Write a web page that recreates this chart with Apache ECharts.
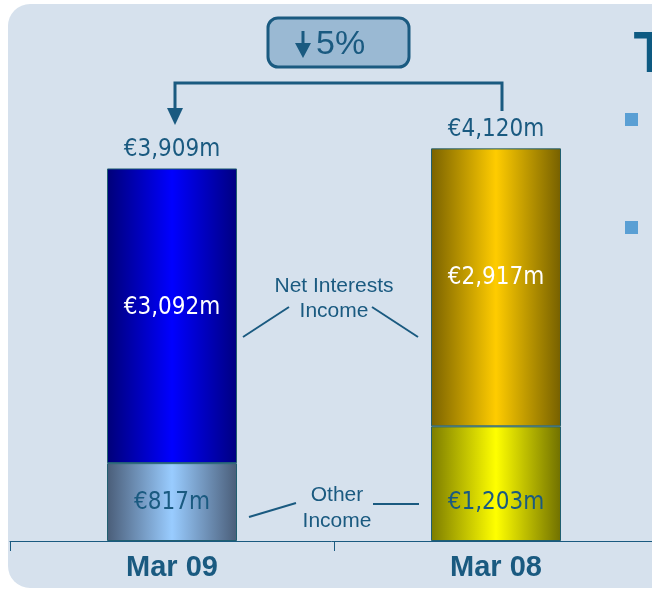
<!DOCTYPE html>
<html>
<head>
<meta charset="utf-8">
<script src="https://cdn.jsdelivr.net/npm/echarts@6/dist/echarts.min.js"></script>
<style>
  html, body { margin: 0; padding: 0; background: #ffffff; }
  #chart { width: 652px; height: 590px; }
</style>
</head>
<body>
<div id="chart"></div>
<script>
// data
const categories = ['Mar 09', 'Mar 08']
const otherIncome = [817, 1203]
const netInterest = [3092, 2917]
const totals = [3909, 4120]
const changeLabel = '5%'

const navy = '#1a5a80'
const narrow = '"Liberation Sans Narrow", "DejaVu Sans Condensed", sans-serif'
const arial = '"Liberation Sans", Arial, sans-serif'

function grad (edge, mid, edge2) {
  return new echarts.graphic.LinearGradient(0, 0, 1, 0, [
    { offset: 0, color: edge },
    { offset: 0.5, color: mid },
    { offset: 1, color: edge2 }
  ])
}

function euro (p) {
  return '€' + p.value.toLocaleString('en-US') + 'm'
}

// colours per bar
const niiColors = [grad('#000078', '#0000ff', '#000080'), grad('#7a6200', '#ffcc00', '#766000')]
const otherColors = [grad('#4a5d78', '#99ccff', '#4a5d78'), grad('#7c7c00', '#ffff00', '#707000')]
const niiOffsets = [-8, -10]
const otherOffsets = [1, 19]

const myChart = echarts.init(document.getElementById('chart'))

const option = {
  backgroundColor: '#ffffff',
  animation: false,
  grid: { left: 10, right: -6, top: 64.5, bottom: 49, outerBoundsMode: 'none', containLabel: false },
  xAxis: {
    type: 'category',
    data: categories,
    axisLine: { lineStyle: { color: navy, width: 1 } },
    axisTick: { show: true, length: 10, lineStyle: { color: navy } },
    axisLabel: {
      color: navy,
      fontFamily: arial,
      fontWeight: 'bold',
      fontSize: 29,
      margin: 12
    }
  },
  yAxis: { type: 'value', min: 0, max: 5000, show: false },
  series: [
    {
      name: 'Other Income',
      type: 'bar',
      stack: 'income',
      barWidth: 130,
      data: otherIncome.map((v, i) => ({
        value: v,
        itemStyle: { color: otherColors[i] },
        label: { offset: [0, otherOffsets[i]] }
      })),
      itemStyle: { borderColor: '#215f70', borderWidth: 1 },
      label: {
        show: true,
        position: 'inside',
        color: navy,
        fontFamily: narrow,
        fontSize: 24,
        formatter: euro
      }
    },
    {
      name: 'Net Interests Income',
      type: 'bar',
      stack: 'income',
      barWidth: 130,
      data: netInterest.map((v, i) => ({
        value: v,
        itemStyle: { color: niiColors[i] },
        label: { offset: [0, niiOffsets[i]] }
      })),
      itemStyle: { borderColor: '#215f70', borderWidth: 1 },
      label: {
        show: true,
        position: 'inside',
        color: '#ffffff',
        fontFamily: narrow,
        fontSize: 24,
        formatter: euro
      }
    },
    {
      name: 'Total',
      type: 'bar',
      barWidth: 130,
      barGap: '-100%',
      silent: true,
      data: totals,
      itemStyle: { color: 'rgba(0,0,0,0)' },
      label: {
        show: true,
        position: 'top',
        distance: 7,
        color: navy,
        fontFamily: narrow,
        fontSize: 24,
        formatter: euro
      }
    }
  ],
  graphic: [
    // panel
    {
      type: 'rect', z: -10, silent: true,
      shape: { x: 8, y: 4, width: 680, height: 584, r: 22 },
      style: { fill: '#d6e1ed' }
    },
    // change box
    {
      type: 'rect',
      shape: { x: 268, y: 18, width: 141, height: 49, r: 10 },
      style: { fill: '#9ab9d3', stroke: navy, lineWidth: 3 }
    },
    { type: 'rect', shape: { x: 301.5, y: 31, width: 3, height: 15 }, style: { fill: navy } },
    { type: 'polygon', shape: { points: [[295, 43], [311, 43], [303, 58]] }, style: { fill: navy } },
    {
      type: 'text',
      style: { x: 316, y: 45, text: changeLabel, fill: navy, font: '34px ' + arial, align: 'left', verticalAlign: 'middle' }
    },
    // bracket
    { type: 'polyline', shape: { points: [[175, 110], [175, 83], [502, 83], [502, 111]] }, style: { stroke: navy, lineWidth: 3, fill: null } },
    { type: 'polygon', shape: { points: [[167, 108], [183, 108], [175, 125]] }, style: { fill: navy } },
    // annotations
    {
      type: 'text',
      style: { x: 334, y: 299, text: 'Net Interests\nIncome', fill: navy, font: '21px ' + arial, align: 'center', verticalAlign: 'middle', lineHeight: 25 }
    },
    { type: 'line', shape: { x1: 243, y1: 337, x2: 289, y2: 307 }, style: { stroke: navy, lineWidth: 2 } },
    { type: 'line', shape: { x1: 372, y1: 307, x2: 418, y2: 337 }, style: { stroke: navy, lineWidth: 2 } },
    {
      type: 'text',
      style: { x: 337, y: 508, text: 'Other\nIncome', fill: navy, font: '21px ' + arial, align: 'center', verticalAlign: 'middle', lineHeight: 26 }
    },
    { type: 'line', shape: { x1: 249, y1: 517, x2: 296, y2: 503 }, style: { stroke: navy, lineWidth: 2 } },
    { type: 'line', shape: { x1: 373, y1: 504, x2: 419, y2: 504 }, style: { stroke: navy, lineWidth: 2 } },
    // clipped slide content on the right
    {
      type: 'text',
      style: { x: 651, y: 28, text: 'T', fill: '#0e5a82', font: 'bold 57px ' + arial, align: 'center', verticalAlign: 'top' }
    },
    { type: 'rect', shape: { x: 625, y: 113, width: 13, height: 13 }, style: { fill: '#5a9fd4' } },
    { type: 'rect', shape: { x: 625, y: 221, width: 13, height: 13 }, style: { fill: '#5a9fd4' } }
  ]
}

myChart.setOption(option)
</script>
</body>
</html>
